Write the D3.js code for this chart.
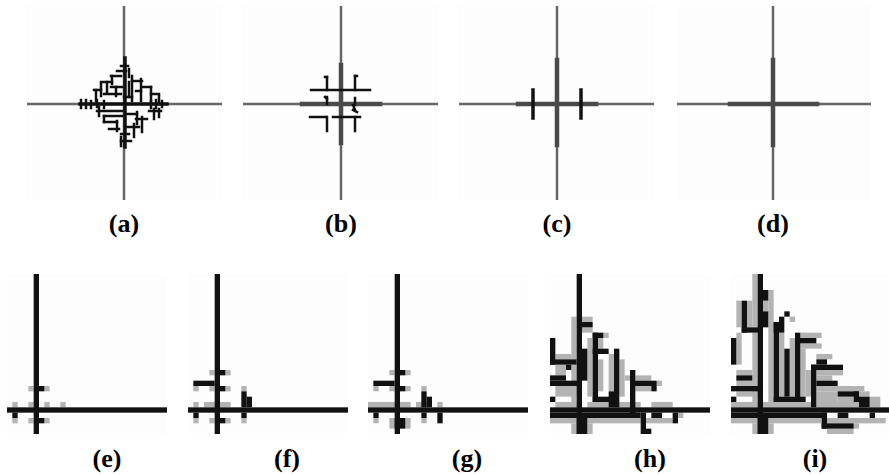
<!DOCTYPE html>
<html>
<head>
<meta charset="utf-8">
<script src="https://cdn.jsdelivr.net/npm/d3@7/dist/d3.min.js"></script>
<style>
  body { margin: 0; background: #fff; }
  svg { display: block; }
</style>
</head>
<body>
<div id="fig"></div>
<script>
// ---- top row: offsets from the centre of each cross, [x1, y1, x2, y2]
var topLabels = ["(a)", "(b)", "(c)", "(d)"];
var crossArms = [[-97, 98, -98, 96], [-98, 97, -98, 96], [-98, 97, -98, 96], [-96, 98, -98, 96]]; // left, right, top, bottom
var thickArms = [null, [-39, 39, -39, 39], [-39, 39, -44, 41], [-43, 44, -44, 41]];

var spineA = [[-44, 0, 43, 0], [1, -46, 1, 43]];
var branchesA = [
  [-3, -38, 4, -38], [-7, -33, 2, -33], [5, -35, 5, -27], [-13, -28, -3, -28], [-12, -28, -12, -20],
  [-23, -22, -12, -22], [-17, -22, -17, -12], [-13, -17, -2, -17], [-23, -20, -23, -8], [-30, -14, -23, -14],
  [-28, -14, -28, -3], [-20, -10, -3, -10], [-8, -17, -8, -8], [8, -28, 8, -3], [8, -23, 18, -23],
  [17, -25, 17, -3], [18, -17, 27, -17], [27, -17, 27, -3], [27, -10, 35, -10], [35, -8, 35, 0],
  [12, -13, 17, -13], [5, -22, 5, -7], [0, -7, 8, -7],
  [-27, 7, -2, 7], [-25, 3, -25, 12], [-20, 12, -2, 12], [-20, 12, -20, 18], [-20, 18, -7, 18],
  [-7, 17, -7, 27], [-15, 25, -5, 25], [-3, 30, 5, 30], [-3, 37, 7, 37], [-3, 33, -3, 42],
  [25, 7, 37, 7], [30, 5, 30, 15], [35, 5, 35, 13], [12, 15, 23, 15], [18, 13, 18, 28],
  [3, 23, 15, 23], [10, 20, 10, 33], [3, 10, 13, 10], [13, 8, 13, 20],
  [-43, -4, -43, 4], [-38, -4, -38, 4], [-33, -3, -33, 4], [-27, -4, -27, 3], [-20, -3, -20, 4],
  [27, -3, 27, 4], [32, -4, 32, 4], [38, -3, 38, 3]
];
var branchesB = [
  [-30, -14, 29, -14], [-14, -27, -14, -14], [-16, -27, -14, -27], [14, -28, 14, -14], [14, -28, 16, -28],
  [-14, -7, -14, 0], [-16, -7, -14, -5], [14, -6, 14, 1], [12, 1, 14, 6], [12, 6, 16, 8],
  [-31, 13, -15, 13], [-8, 13, 19, 13], [-14, 13, -14, 27], [14, 13, 14, 27]
];
var branchesC = [[-24, -14, -24, 14], [24, -14, 24, 14]];
var branchesD = [];
var topBranches = [branchesA, branchesB, branchesC, branchesD];

// ---- bottom row: grid cells [col1, row1, col2, row2], 30 x 30 grid
var bottomLabels = ["(e)", "(f)", "(g)", "(h)", "(i)"];

var blackE = [[5, 0, 5, 29], [0, 25, 29, 25], [6, 21, 6, 21], [6, 27, 6, 27], [1, 26, 1, 26]];
var grayE = [[4, 21, 4, 21], [7, 21, 7, 21], [1, 24, 1, 24], [4, 24, 4, 24], [7, 24, 7, 24], [10, 24, 10, 24],
  [4, 27, 4, 27], [7, 27, 7, 27], [1, 27, 1, 27]];

var blackF = [[5, 0, 5, 29], [0, 25, 29, 25], [6, 18, 6, 18], [1, 20, 4, 20], [6, 21, 6, 21],
  [10, 22, 10, 24], [11, 23, 11, 24], [1, 26, 1, 26], [10, 26, 10, 26], [6, 27, 6, 27]];
var grayF = [[4, 18, 4, 18], [7, 18, 7, 18], [1, 21, 1, 21], [4, 21, 4, 21], [7, 21, 7, 21], [10, 21, 10, 21],
  [1, 24, 1, 24], [3, 24, 7, 24], [4, 27, 4, 27], [7, 27, 7, 27], [1, 27, 1, 27], [10, 27, 10, 27]];

var blackG = [[5, 0, 5, 29], [0, 25, 29, 25], [6, 18, 6, 18], [1, 20, 4, 20], [6, 21, 6, 21],
  [10, 22, 10, 24], [11, 23, 11, 24], [1, 26, 1, 26], [10, 26, 10, 26], [13, 26, 13, 27], [5, 27, 6, 28]];
var grayG = [[4, 18, 4, 18], [7, 18, 7, 18], [1, 21, 1, 21], [4, 21, 4, 21], [7, 21, 7, 21], [10, 21, 10, 21],
  [0, 24, 2, 24], [3, 24, 7, 24], [9, 24, 10, 24], [13, 24, 13, 24], [4, 27, 4, 28], [7, 27, 7, 28],
  [1, 27, 1, 27], [10, 27, 10, 27]];

var blackH = [[5, 0, 5, 29], [0, 25, 29, 25], [0, 26, 16, 26],
  [6, 9, 7, 9], [8, 11, 9, 11], [8, 11, 8, 23], [8, 14, 10, 14], [12, 14, 12, 24], [6, 14, 6, 19],
  [0, 12, 0, 16], [0, 16, 4, 16], [3, 17, 3, 17], [0, 19, 2, 19], [0, 20, 5, 20], [0, 23, 0, 23],
  [8, 23, 11, 23], [11, 22, 11, 24], [15, 18, 15, 26], [15, 20, 19, 20], [19, 21, 19, 21],
  [5, 27, 6, 29], [17, 26, 17, 29], [18, 29, 18, 29], [19, 26, 20, 26], [23, 26, 23, 27]];
var grayH = [[4, 8, 4, 15], [4, 17, 4, 24], [6, 8, 7, 8], [6, 10, 7, 10], [7, 12, 7, 22], [10, 11, 10, 11],
  [9, 12, 9, 13], [9, 16, 9, 21], [11, 15, 11, 21], [13, 16, 13, 22], [14, 19, 14, 19], [16, 19, 18, 19],
  [16, 21, 18, 21], [20, 20, 20, 20], [1, 15, 3, 15], [1, 17, 2, 18], [1, 21, 4, 22], [1, 24, 4, 24],
  [7, 24, 16, 24], [19, 24, 22, 24], [0, 27, 4, 27], [7, 27, 16, 27], [4, 28, 4, 29], [7, 28, 7, 29],
  [18, 27, 22, 27], [24, 26, 24, 26]];

var blackI = [[5, 0, 5, 29], [0, 25, 29, 25], [0, 26, 17, 26],
  [6, 3, 6, 4], [6, 7, 6, 9], [2, 5, 2, 10], [2, 10, 5, 10],
  [10, 7, 10, 7], [9, 8, 9, 8], [8, 9, 9, 10], [8, 9, 8, 23], [10, 14, 10, 22],
  [12, 11, 12, 23], [12, 12, 15, 12], [0, 12, 0, 16], [1, 19, 3, 19], [0, 21, 5, 21], [0, 23, 0, 23],
  [8, 23, 13, 23], [16, 16, 17, 16], [15, 17, 20, 17], [15, 17, 15, 24], [16, 20, 19, 20],
  [20, 22, 23, 22], [23, 22, 23, 23], [24, 23, 25, 24], [20, 26, 21, 26], [26, 26, 26, 26],
  [5, 27, 6, 29], [17, 26, 17, 28], [17, 28, 22, 28]];
var grayI = [[4, 0, 4, 9], [4, 11, 4, 24], [1, 5, 1, 9], [3, 5, 3, 9], [7, 3, 7, 24], [6, 5, 6, 6],
  [9, 11, 9, 22], [11, 8, 11, 8], [11, 12, 11, 22], [13, 11, 16, 11], [13, 13, 16, 13], [13, 14, 13, 22],
  [14, 18, 14, 22], [16, 15, 18, 15], [16, 18, 20, 18], [16, 19, 18, 19], [16, 21, 20, 21],
  [16, 22, 19, 23], [20, 23, 22, 23], [21, 21, 24, 21], [24, 22, 25, 22], [26, 23, 27, 24],
  [1, 11, 1, 16], [1, 18, 3, 18], [1, 20, 4, 20], [1, 22, 4, 22], [0, 24, 4, 24], [6, 24, 14, 24],
  [16, 24, 23, 24], [0, 27, 4, 27], [7, 27, 16, 27], [18, 27, 28, 27], [4, 28, 4, 29], [7, 28, 7, 29],
  [18, 29, 22, 29], [23, 28, 23, 28]];

var bottomBlack = [blackE, blackF, blackG, blackH, blackI];
var bottomGray = [grayE, grayF, grayG, grayH, grayI];

// ---- layout
var width = 889, height = 475;
var topCx = [124, 341, 557, 773], topCy = 104, topLabelY = 232;
var botLeft = [7, 188, 368, 550, 731], botTop = 274, botSize = 160, botLabelY = 467;
var botLabelX = [107, 287, 467, 650, 815];
var labelFont = "'Liberation Serif', 'Times New Roman', serif";

var svg = d3.select("#fig")
    .append("svg")
    .attr("width", width)
    .attr("height", height);

function drawSegs(g, segs, x, y, color, w) {
    g.selectAll(null)
        .data(segs)
        .enter()
        .append("line")
        .attr("x1", function(d) { return x(d[0]); })
        .attr("y1", function(d) { return y(d[1]); })
        .attr("x2", function(d) { return x(d[2]); })
        .attr("y2", function(d) { return y(d[3]); })
        .attr("stroke", color)
        .attr("stroke-width", w)
        .attr("stroke-linecap", "square");
}

topLabels.forEach(function(lab, i) {
    var x = d3.scaleLinear().domain([-100, 100]).range([topCx[i] - 100, topCx[i] + 100]);
    var y = d3.scaleLinear().domain([-100, 100]).range([topCy - 100, topCy + 100]);
    var g = svg.append("g");
    var a = crossArms[i];

    g.append("rect")
        .attr("x", x(a[0])).attr("y", y(a[2]))
        .attr("width", x(a[1]) - x(a[0])).attr("height", y(a[3]) - y(a[2]))
        .attr("fill", "#fdfdfd");

    g.append("line")
        .attr("x1", x(a[0])).attr("x2", x(a[1]))
        .attr("y1", y(0)).attr("y2", y(0))
        .attr("stroke", "#666").attr("stroke-width", 2.5);
    g.append("line")
        .attr("x1", x(0)).attr("x2", x(0))
        .attr("y1", y(a[2])).attr("y2", y(a[3]))
        .attr("stroke", "#666").attr("stroke-width", 2.5);

    if (thickArms[i]) {
        var t = thickArms[i];
        drawSegs(g, [[t[0], 0, t[1], 0], [0, t[2], 0, t[3]]], x, y, "#4a4a4a", 4.5);
    }
    if (i === 0) drawSegs(g, spineA, x, y, "#111", 3.5);
    drawSegs(g, topBranches[i], x, y, "#111", i === 2 ? 3.5 : 2.5);

    g.append("text")
        .attr("x", topCx[i])
        .attr("y", topLabelY)
        .attr("text-anchor", "middle")
        .attr("font-family", labelFont)
        .attr("font-weight", "bold")
        .attr("font-size", 26)
        .text(lab);
});

bottomLabels.forEach(function(lab, i) {
    var x = d3.scaleLinear().domain([0, 30]).range([botLeft[i], botLeft[i] + botSize]);
    var y = d3.scaleLinear().domain([0, 30]).range([botTop, botTop + botSize]);
    var g = svg.append("g");

    g.append("rect")
        .attr("x", x(0)).attr("y", y(0))
        .attr("width", x(30) - x(0)).attr("height", y(30) - y(0))
        .attr("fill", "#fdfdfd");

    function cells(data, color) {
        g.selectAll(null)
            .data(data)
            .enter()
            .append("rect")
            .attr("x", function(d) { return x(d[0]); })
            .attr("y", function(d) { return y(d[1]); })
            .attr("width", function(d) { return x(d[2] + 1) - x(d[0]); })
            .attr("height", function(d) { return y(d[3] + 1) - y(d[1]); })
            .attr("fill", color);
    }
    cells(bottomGray[i], "#b3b3b3");
    cells(bottomBlack[i], "#111");

    g.append("text")
        .attr("x", botLabelX[i])
        .attr("y", botLabelY)
        .attr("text-anchor", "middle")
        .attr("font-family", labelFont)
        .attr("font-weight", "bold")
        .attr("font-size", 26)
        .text(lab);
});
</script>
</body>
</html>
